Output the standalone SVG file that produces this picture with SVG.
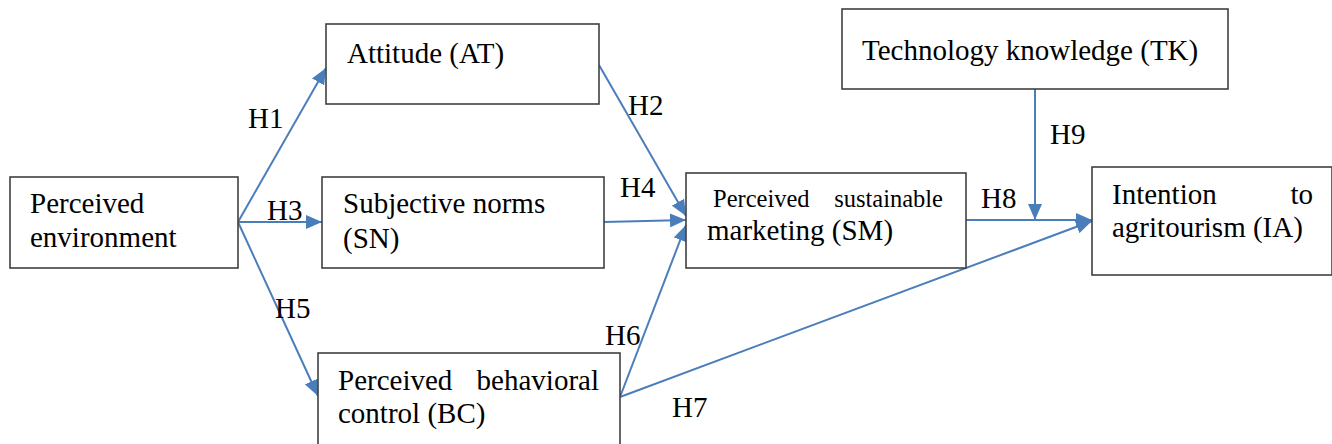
<svg xmlns="http://www.w3.org/2000/svg" width="1332" height="444" viewBox="0 0 1332 444">
<style>
.box{fill:#fff;stroke:#404040;stroke-width:1.6}
.t{font-family:"Liberation Serif","Times New Roman",serif;font-size:29px;fill:#000}
.s{font-size:24.5px}
.e{text-anchor:end}
.c{fill:none;stroke:#4a7ebb;stroke-width:2;marker-end:url(#ah)}
</style>
<defs>
<marker id="ah" markerUnits="userSpaceOnUse" markerWidth="16" markerHeight="14" refX="16" refY="7" orient="auto">
<path d="M0,0 L16,7 L0,14 Z" fill="#4a7ebb"/>
</marker>
</defs>
<rect width="1332" height="444" fill="#fff"/>
<g id="connectors">
<line class="c" x1="238" y1="222" x2="326" y2="68"/>
<line class="c" x1="238" y1="222" x2="322" y2="222"/>
<line class="c" x1="238" y1="222" x2="318" y2="396"/>
<line class="c" x1="599" y1="65" x2="686" y2="216"/>
<line class="c" x1="604" y1="222" x2="686" y2="220"/>
<line class="c" x1="620" y1="397" x2="686" y2="225"/>
<line class="c" x1="620" y1="397" x2="1092" y2="221"/>
<line class="c" x1="966" y1="220" x2="1092" y2="220"/>
<line class="c" x1="1035" y1="89" x2="1035" y2="220"/>
<text class="t" x="248" y="128">H1</text>
<text class="t" x="628" y="115">H2</text>
<text class="t" x="267" y="220">H3</text>
<text class="t" x="620" y="197">H4</text>
<text class="t" x="275" y="318">H5</text>
<text class="t" x="605" y="345">H6</text>
<text class="t" x="672" y="417">H7</text>
<text class="t" x="981" y="208">H8</text>
<text class="t" x="1050" y="144">H9</text>
</g>
<g id="PE">
<rect class="box" x="10" y="177" width="228" height="91"/>
<text class="t" x="30" y="213">Perceived</text>
<text class="t" x="30" y="247">environment</text>
</g>
<g id="AT">
<rect class="box" x="326" y="24" width="273" height="80"/>
<text class="t" x="347" y="63">Attitude (AT)</text>
</g>
<g id="SN">
<rect class="box" x="322" y="177" width="282" height="91"/>
<text class="t" x="343" y="213">Subjective norms</text>
<text class="t" x="343" y="248">(SN)</text>
</g>
<g id="BC">
<rect class="box" x="318" y="353" width="302" height="95"/>
<text class="t" x="338" y="390">Perceived</text>
<text class="t e" x="599" y="390">behavioral</text>
<text class="t" x="338" y="423">control (BC)</text>
</g>
<g id="SM">
<rect class="box" x="686" y="173" width="280" height="95"/>
<text class="t s" x="713" y="207">Perceived</text>
<text class="t s e" x="943" y="207">sustainable</text>
<text class="t" x="707" y="240">marketing (SM)</text>
</g>
<g id="TK">
<rect class="box" x="842" y="9" width="386" height="80"/>
<text class="t" x="862" y="60">Technology knowledge (TK)</text>
</g>
<g id="IA">
<rect class="box" x="1092" y="167" width="240" height="108"/>
<text class="t" x="1112" y="204">Intention</text>
<text class="t e" x="1313" y="204">to</text>
<text class="t" x="1112" y="237">agritourism (IA)</text>
</g>
</svg>
